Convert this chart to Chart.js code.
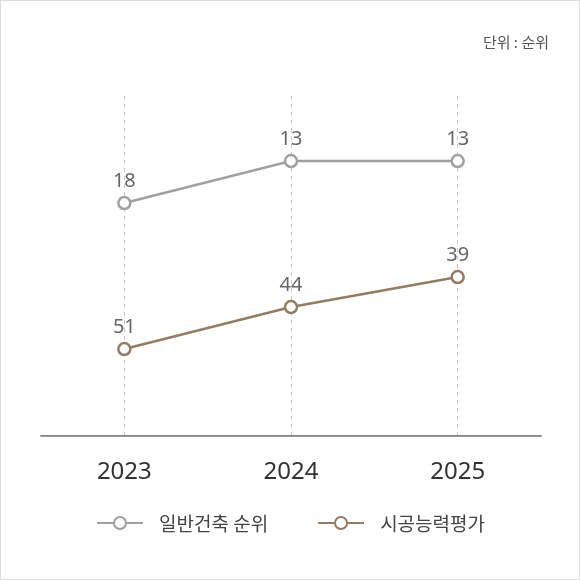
<!DOCTYPE html>
<html>
<head>
<meta charset="utf-8">
<script src="https://cdn.jsdelivr.net/npm/chart.js@4"></script>
<style>
  html, body { margin: 0; padding: 0; background: #fff; }
  #wrap { position: relative; width: 580px; height: 580px; box-sizing: border-box; border: 1px solid #ddd; font-family: "Noto Sans CJK KR", "Noto Sans", sans-serif; }
  canvas { position: absolute; left: 0; top: 0; }
  .unit { position: absolute; right: 30px; top: 30px; font-size: 15px; color: #555; }
  .legend { position: absolute; top: 508px; left: 0; width: 580px; display: flex; justify-content: center; gap: 50px; font-size: 19px; color: #444; }
  .legend span { display: flex; align-items: center; }
  .mark { position: relative; width: 46px; height: 14px; margin-right: 16px; }
  .mark:before { content: ""; position: absolute; left: 0; right: 0; top: 6px; height: 2.5px; background: var(--c); }
  .mark:after { content: ""; position: absolute; left: 16px; top: 0; width: 10px; height: 10px; border: 2.5px solid var(--c); border-radius: 50%; background: #fff; }
</style>
</head>
<body>
<div id="wrap">
  <canvas id="chart" width="580" height="580"></canvas>
  <div class="unit">단위 : 순위</div>
  <div class="legend">
    <span><i class="mark" style="--c:#a0a0a0"></i>일반건축 순위</span>
    <span><i class="mark" style="--c:#937c62"></i>시공능력평가</span>
  </div>
</div>
<script>
const years = ['2023', '2024', '2025'];
const generalRank = [18, 13, 13];
const capacityRank = [51, 44, 39];

const valueLabels = {
  id: 'valueLabels',
  afterDatasetsDraw(chart) {
    const ctx = chart.ctx;
    ctx.save();
    ctx.font = '20px "Noto Sans", sans-serif';
    ctx.fillStyle = '#666';
    ctx.textAlign = 'center';
    ctx.textBaseline = 'bottom';
    chart.data.datasets.forEach((ds, i) => {
      chart.getDatasetMeta(i).data.forEach((pt, j) => {
        ctx.fillText(ds.data[j], pt.x, pt.y - 12);
      });
    });
    ctx.restore();
  }
};

new Chart(document.getElementById('chart'), {
  type: 'line',
  data: {
    labels: years,
    datasets: [
      { data: generalRank, yAxisID: 'y', borderColor: '#a0a0a0', borderWidth: 2.5,
        pointRadius: 6, pointBorderWidth: 2.5, pointBackgroundColor: '#fff', pointBorderColor: '#a0a0a0' },
      { data: capacityRank, yAxisID: 'y2', borderColor: '#937c62', borderWidth: 2.5,
        pointRadius: 6, pointBorderWidth: 2.5, pointBackgroundColor: '#fff', pointBorderColor: '#937c62' }
    ]
  },
  options: {
    responsive: false,
    animation: false,
    layout: { padding: { left: 40, right: 40, top: 95, bottom: 0 } },
    plugins: { legend: { display: false }, tooltip: { enabled: false } },
    scales: {
      x: {
        offset: true,
        afterFit(s) { s.height = 145; },
        grid: { offset: false, drawTicks: false, color: '#c8c8c8', borderDash: [4, 4] },
        border: { display: true, color: '#888', width: 1.5, dash: [4, 4] },
        ticks: { padding: 22, color: '#333', font: { size: 24, family: '"Noto Sans", sans-serif' } }
      },
      y: { display: false, reverse: true, min: 5.26, max: 45.74 },
      y2: { display: false, reverse: true, min: 8.83, max: 65.5 }
    }
  },
  plugins: [valueLabels, {
    id: 'baseLine',
    afterDraw(chart) {
      const { ctx, chartArea } = chart;
      ctx.save();
      ctx.strokeStyle = '#888';
      ctx.lineWidth = 1.5;
      ctx.beginPath();
      ctx.moveTo(chartArea.left, chartArea.bottom);
      ctx.lineTo(chartArea.right, chartArea.bottom);
      ctx.stroke();
      ctx.restore();
    }
  }]
});
</script>
</body>
</html>
